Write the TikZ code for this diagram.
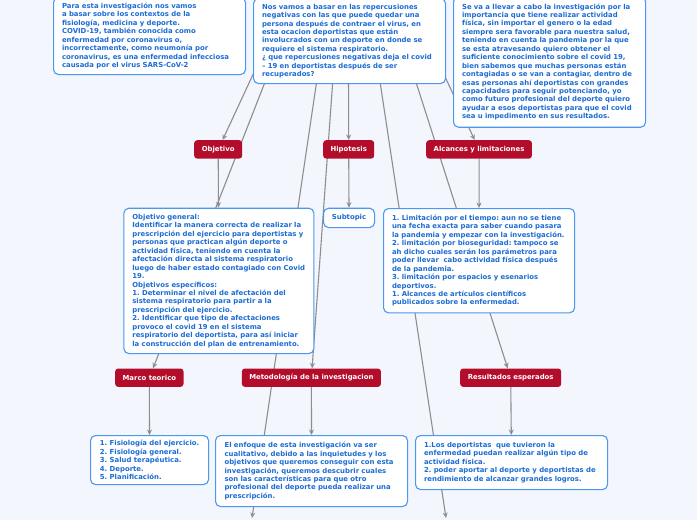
\documentclass[tikz,border=0pt]{standalone}
\usepackage{fontspec}
\setmainfont{DejaVu Sans}
\usetikzlibrary{arrows.meta}
\definecolor{bgc}{HTML}{F3F6FD}
\definecolor{nborder}{HTML}{4A98EF}
\definecolor{ntext}{HTML}{1C6CD4}
\definecolor{tred}{HTML}{B30D2B}
\definecolor{lgray}{HTML}{8E8E8E}
\newcommand\nfont{\fontsize{6.9}{8.45}\selectfont\bfseries\frenchspacing\hyphenpenalty=10000\exhyphenpenalty=10000\hbadness=10000\hfuzz=50pt}
\pgfdeclarelayer{lines}
\pgfsetlayers{lines,main}
\tikzset{
  note/.style={draw=nborder, fill=white, rounded corners=5pt, line width=1.1pt,
    text=ntext, font=\nfont, align=left, inner xsep=8.5pt, inner ysep=0pt, anchor=north west},
  topic/.style={fill=tred, rounded corners=3pt, text=white, font=\nfont,
    inner sep=0pt, anchor=north west, minimum height=18.4pt},
  conn/.style={draw=lgray, line width=1.1pt, -{Stealth[length=5.5pt,width=5pt]}},
}
\begin{document}
\begin{tikzpicture}[x=1pt,y=-1pt]
\useasboundingbox (0,0) rectangle (697,520);
% top notes
\node[note, minimum width=192pt, minimum height=77pt, text width=175pt] (tl) at (53,-3) {Para esta investigación nos vamos\\a basar sobre los contextos de la\\fisiología, medicina y deporte.\\COVID-19, también conocida como\\enfermedad por coronavirus o,\\incorrectamente, como neumonía por\\coronavirus, es una enfermedad infecciosa\\causada por el virus SARS-CoV-2};
\node[note, minimum width=192pt, minimum height=85pt, text width=175pt] (tc) at (253,-2) {Nos vamos a basar en las repercusiones\\negativas con las que puede quedar una\\persona después de contraer el virus, en\\esta ocacion deportistas que están\\involucrados con un deporte en donde se\\requiere el sistema respiratorio.\\¿ que repercusiones negativas deja el covid\\– 19 en deportistas después de ser\\recuperados?};
\node[note, minimum width=192pt, minimum height=130.7pt, text width=175pt] (tr) at (453,-4) {Se va a llevar a cabo la investigación por la\\importancia que tiene realizar actividad\\física, sin importar el genero o la edad\\siempre sera favorable para nuestra salud,\\teniendo en cuenta la pandemia por la que\\se esta atravesando quiero obtener el\\suficiente conocimiento sobre el covid 19,\\bien sabemos que muchas personas están\\contagiadas o se van a contagiar, dentro de\\esas personas ahí deportistas con grandes\\capacidades para seguir potenciando, yo\\como futuro profesional del deporte quiero\\ayudar a esos deportistas para que el covid\\sea u impedimento en sus resultados.};
% red topics row 1
\node[topic, minimum width=48pt] (obj) at (194,140) {Objetivo};
\node[topic, minimum width=51pt] (hip) at (323,140) {Hipotesis};
\node[topic, minimum width=105.7pt] (alc) at (426,140) {Alcances y limitaciones};
% second row notes
\node[note, minimum width=189.7pt, minimum height=145.3pt, text width=173pt] (og) at (123.3,207.7) {Objetivo general:\\Identificar la manera correcta de realizar la\\prescripción del ejercicio para deportistas y\\personas que practican algún deporte o\\actividad física, teniendo en cuenta la\\afectación directa al sistema respiratorio\\luego de haber estado contagiado con Covid\\19.\\Objetivos específicos:\\1. Determinar el nivel de afectación del\\sistema respiratorio para partir a la\\prescripción del ejercicio.\\2. Identificar que tipo de afectaciones\\provoco el covid 19 en el sistema\\respiratorio del deportista, para así iniciar\\la construcción del plan de entrenamiento.};
\node[note, align=center, inner xsep=0pt, minimum width=51pt, minimum height=19.3pt, text width=51pt] (sub) at (323,207.7) {Subtopic};
\node[note, minimum width=191pt, minimum height=104.3pt, text width=174pt] (lim) at (383,208) {1. Limitación por el tiempo: aun no se tiene\\una fecha exacta para saber cuando pasara\\la pandemia y empezar con la investigación.\\2. limitación por bioseguridad: tampoco se\\ah dicho cuales serán los parámetros para\\poder llevar\ \ cabo actividad física después\\de la pandemia.\\3. limitación por espacios y esenarios\\deportivos.\\1. Alcances de artículos científicos\\publicados sobre la enfermedad.};
% red topics row 2
\node[topic, minimum width=68.3pt] (mar) at (115,368.3) {Marco teorico};
\node[topic, minimum width=139pt] (met) at (241.7,368.3) {Metodología de la investigacion};
\node[topic, minimum width=101pt] (res) at (460,368.3) {Resultados esperados};
% bottom notes
\node[note, inner xsep=0pt, minimum width=118pt, minimum height=49pt] (fis) at (90,435) {1. Fisiología del ejercicio.\\2. Fisiología general.\\3. Salud terapéutica.\\4. Deporte.\\5. Planificación.};
\node[note, inner xsep=9pt, minimum width=192pt, minimum height=71pt, text width=174pt] (enf) at (215,435) {El enfoque de esta investigación va ser\\cualitativo, debido a las inquietudes y los\\objetivos que queremos conseguir con esta\\investigación, queremos descubrir cuales\\son las características para que otro\\profesional del deporte pueda realizar una\\prescripción.};
\node[note, minimum width=192pt, minimum height=54pt, text width=175pt] (dep) at (415,435) {1.Los deportistas\ \ que tuvieron la\\enfermedad puedan realizar algún tipo de\\actividad física.\\2. poder aportar al deporte y deportistas de\\rendimiento de alcanzar grandes logros.};
% connectors
\coordinate (root) at (348,-130);
\coordinate (endA) at (252,518);
\coordinate (endB) at (446,518);
\begin{pgfonlayer}{lines}
  \clip (0,0) rectangle (697,520);
  \fill[bgc] (0,0) rectangle (697,520);
  \draw[conn] (root) -- (obj);
  \draw[conn] (root) -- (mar);
  \draw[conn] (root) -- (endA);
  \draw[conn] (root) -- (met);
  \draw[conn] (root) -- (hip);
  \draw[conn] (root) -- (endB);
  \draw[conn] (root) -- (res);
  \draw[conn] (root) -- (alc);
  \draw[conn] (obj) -- (og);
  \draw[conn] (hip) -- (sub);
  \draw[conn] (alc) -- (lim);
  \draw[conn] (mar) -- (fis);
  \draw[conn] (met) -- (enf);
  \draw[conn] (res) -- (dep);
\end{pgfonlayer}
\end{tikzpicture}
\end{document}
